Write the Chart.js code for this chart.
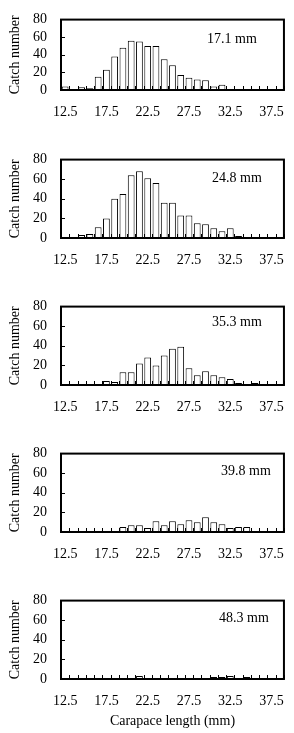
<!DOCTYPE html>
<html><head><meta charset="utf-8">
<script src="https://cdn.jsdelivr.net/npm/chart.js@4/dist/chart.umd.min.js"></script>
<style>
html,body{margin:0;padding:0;background:#fff;width:294px;height:733px;overflow:hidden;position:relative;}
canvas{position:absolute;left:0;}
</style></head><body>
<script>
// ---- data ----
const categories = ['12.5','13.5','14.5','15.5','16.5','17.5','18.5','19.5','20.5','21.5','22.5','23.5','24.5','25.5','26.5','27.5','28.5','29.5','30.5','31.5','32.5','33.5','34.5','35.5','36.5','37.5','38.5'];
const tickLabels = ['12.5','17.5','22.5','27.5','32.5','37.5'];
const yTickValues = [0,20,40,60,80];
const meshLabels = ['17.1 mm','24.8 mm','35.3 mm','39.8 mm','48.3 mm'];
const catch171 = [4,0,3,2,15,23,38,48,56,55,50,50,35,28,17,14,12,11,4,6,0,0,0,0,0,0,0];
const catch248 = [0,0,3,4,11,20,40,45,64,68,61,56,36,36,23,23,15,14,10,7,10,2,0,0,0,0,0];
const catch353 = [0,0,0,0,0,4,3,13,13,22,28,20,30,37,39,17,10,14,10,8,6,2,0,2,0,0,0];
const catch398 = [0,0,0,0,0,0,0,5,7,7,4,11,7,11,8,12,10,15,10,8,4,5,5,0,0,0,0];
const catch483 = [0,0,0,0,0,0,0,0,0,3,0,0,0,0,0,0,0,0,2,2,3,0,2,0,0,0,0];
const yTitle = 'Catch number';
const xTitle = 'Carapace length (mm)';

// ---- layout (positions, not data) ----
const series = [catch171, catch248, catch353, catch398, catch483];
const panels = [
  {canvasTop:0,   padTop:6,  height:120, axisH:30, dx:146, dy:20},
  {canvasTop:140, padTop:10, height:128, axisH:30, dx:151, dy:19},
  {canvasTop:287, padTop:10, height:128, axisH:30, dx:151, dy:16},
  {canvasTop:434, padTop:10, height:128, axisH:30, dx:160, dy:18},
  {canvasTop:581, padTop:10, height:152, axisH:54, dx:158, dy:18}
];
const FONT = '"Liberation Serif", "Times New Roman", serif';

const framePlugin = {
  id: 'frame',
  afterDatasetsDraw(chart, args, opts) {
    const {ctx, chartArea: a, scales: {x, y}} = chart;
    ctx.save();
    ctx.strokeStyle = '#000';
    ctx.lineWidth = 1;
    const step = x.getPixelForValue(1) - x.getPixelForValue(0);
    ctx.beginPath();
    for (let i = 0; i <= categories.length; i++) {
      const px = Math.round(x.getPixelForValue(i) - step / 2) + 0.5;
      ctx.moveTo(px, a.bottom);
      ctx.lineTo(px, a.bottom - 4);
    }
    for (const v of yTickValues) {
      if (v === 0 || v === 80) continue;
      const py = Math.round(y.getPixelForValue(v)) + 0.5;
      ctx.moveTo(a.left, py);
      ctx.lineTo(a.left + 4, py);
    }
    ctx.stroke();
    ctx.lineWidth = 2;
    ctx.strokeRect(a.left, a.top, a.right - a.left, a.bottom - a.top);
    ctx.font = '14px ' + FONT;
    ctx.fillStyle = '#000';
    ctx.textBaseline = 'middle';
    ctx.textAlign = 'left';
    ctx.fillText(opts.text, a.left + opts.dx, a.top + opts.dy);
    ctx.restore();
  }
};

panels.forEach((p, k) => {
  const cv = document.createElement('canvas');
  cv.width = 294; cv.height = p.height;
  cv.style.top = p.canvasTop + 'px';
  cv.style.width = '294px'; cv.style.height = p.height + 'px';
  document.body.appendChild(cv);
  const last = k === panels.length - 1;
  new Chart(cv, {
    type: 'bar',
    data: {
      labels: categories,
      datasets: [{
        data: series[k],
        backgroundColor: '#fff',
        borderColor: '#000',
        borderWidth: 1,
        barPercentage: 0.82,
        categoryPercentage: 1.0
      }]
    },
    options: {
      responsive: false,
      animation: false,
      devicePixelRatio: 1,
      layout: {padding: {top: p.padTop, right: 10, left: 0, bottom: 0}},
      plugins: {
        legend: {display: false},
        tooltip: {enabled: false},
        frame: {text: meshLabels[k], dx: p.dx, dy: p.dy}
      },
      scales: {
        x: {
          grid: {display: false, drawTicks: false},
          border: {display: false},
          ticks: {
            autoSkip: false, maxRotation: 0, minRotation: 0, padding: 14,
            color: '#000', font: {family: FONT, size: 14},
            callback: (v, i) => tickLabels.includes(categories[i]) ? categories[i] : ''
          },
          title: {display: last, text: xTitle, color: '#000', font: {family: FONT, size: 14}, padding: {top: 0, bottom: 3}},
          afterFit: s => { s.height = p.axisH; }
        },
        y: {
          min: 0, max: 80,
          grid: {display: false, drawTicks: false},
          border: {display: false},
          ticks: {stepSize: 20, padding: 14, color: '#000', font: {family: FONT, size: 14, lineHeight: 0.8}},
          title: {display: true, text: yTitle, color: '#000', font: {family: FONT, size: 14}, padding: {top: 7, bottom: 0}},
          afterFit: s => { s.width = 61; }
        }
      }
    },
    plugins: [framePlugin]
  });
});
</script>
</body></html>
